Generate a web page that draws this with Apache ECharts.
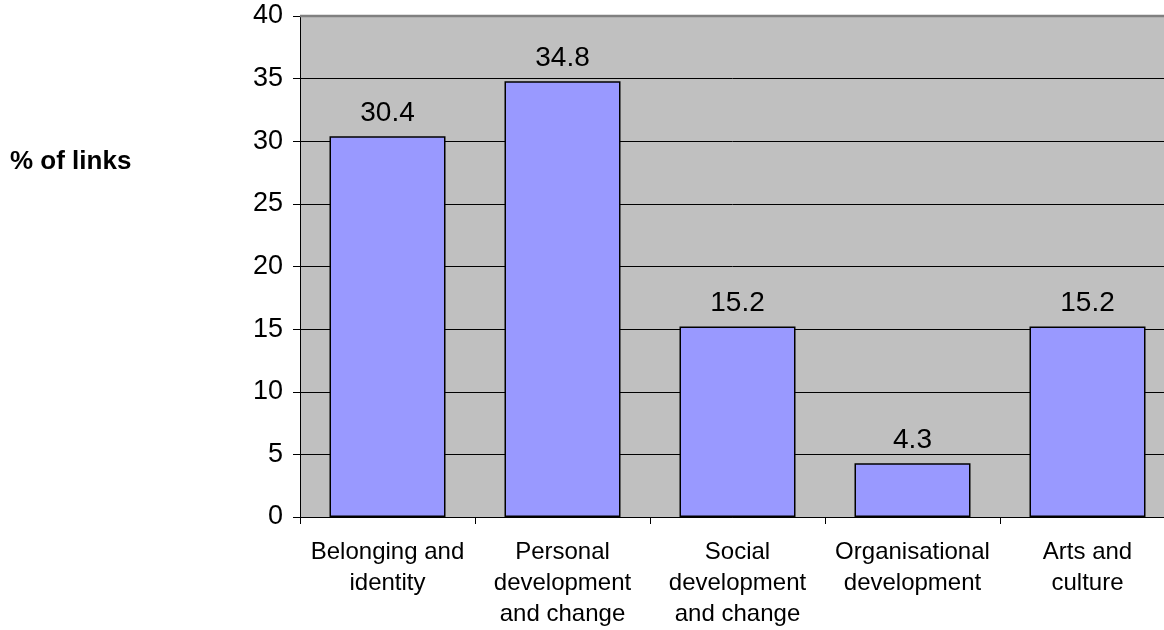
<!DOCTYPE html>
<html>
<head>
<meta charset="utf-8">
<script src="https://cdn.jsdelivr.net/npm/echarts@6/dist/echarts.min.js"></script>
<style>
html, body { margin: 0; padding: 0; background: #ffffff; }
#chart { width: 1164px; height: 630px; }
</style>
</head>
<body>
<div id="chart"></div>
<script>
// Share of links by theme
const categories = [
  'Belonging and\nidentity',
  'Personal\ndevelopment\nand change',
  'Social\ndevelopment\nand change',
  'Organisational\ndevelopment',
  'Arts and\nculture'
];
const values = [30.4, 34.8, 15.2, 4.3, 15.2];
const yTicks = [0, 5, 10, 15, 20, 25, 30, 35, 40];
const axisTitle = '% of links';

const font = '"Liberation Sans", Arial, sans-serif';
const chart = echarts.init(document.getElementById('chart'), null, { renderer: 'canvas' });

chart.setOption({
  animation: false,
  backgroundColor: '#ffffff',
  grid: {
    left: 300,
    top: 16,
    width: 875,
    bottom: 113,
    outerBoundsMode: 'none',
    containLabel: false,
    show: true,
    backgroundColor: '#c0c0c0',
    borderWidth: 0
  },
  graphic: [
    {
      type: 'line',
      shape: { x1: 300, y1: 16, x2: 1164, y2: 16 },
      style: { stroke: '#808080', lineWidth: 2.5 },
      z: 1
    },
    {
      type: 'text',
      left: 10,
      top: 149,
      style: { text: axisTitle, font: 'bold 26px ' + font, fill: '#000000' }
    }
  ],
  xAxis: {
    type: 'category',
    data: categories,
    axisLine: { show: true, lineStyle: { color: '#000000', width: 1 } },
    axisTick: { show: true, length: 7, lineStyle: { color: '#000000' } },
    axisLabel: {
      color: '#000000',
      fontFamily: font,
      fontSize: 24,
      lineHeight: 31,
      margin: 20,
      interval: 0
    }
  },
  yAxis: {
    type: 'value',
    min: yTicks[0],
    max: yTicks[yTicks.length - 1],
    interval: 5,
    axisLine: { show: true, lineStyle: { color: '#000000', width: 1 } },
    axisTick: { show: true, length: 7, lineStyle: { color: '#000000' } },
    splitLine: { show: true, lineStyle: { color: '#000000', width: 1 } },
    axisLabel: {
      color: '#000000',
      fontFamily: font,
      fontSize: 27,
      margin: 17
    }
  },
  series: [{
    type: 'bar',
    data: values,
    barWidth: 116,
    itemStyle: { color: '#9999ff', borderColor: '#000000', borderWidth: 1.5 },
    label: {
      show: true,
      position: 'top',
      distance: 9,
      color: '#000000',
      fontFamily: font,
      fontSize: 28
    }
  }]
});
</script>
</body>
</html>
